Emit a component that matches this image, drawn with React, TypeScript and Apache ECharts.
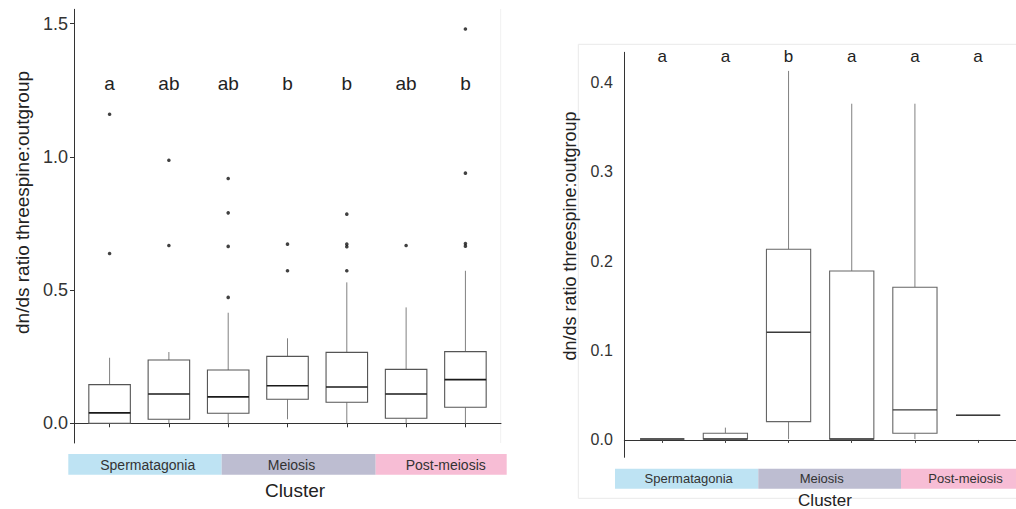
import React, { useEffect, useRef } from "react";
import * as echarts from "echarts";

const FONT = "'Liberation Sans', Arial, Helvetica, sans-serif";

// ---------- Left panel data ----------
const leftPositions = [1, 2, 3, 4, 5, 6, 7];
const leftMin = [0, 0, 0, 0.015, 0, 0, 0];
const leftQ1 = [0, 0.015, 0.0375, 0.09, 0.079, 0.019, 0.06];
const leftMedian = [0.039, 0.11, 0.099, 0.141, 0.136, 0.11, 0.164];
const leftQ3 = [0.145, 0.2375, 0.2, 0.251, 0.266, 0.2025, 0.269];
const leftMax = [0.246, 0.2675, 0.415, 0.319, 0.529, 0.435, 0.5725];
const leftOutliers: [number, number][] = [
  [1, 1.16], [1, 0.6375],
  [2, 0.9875], [2, 0.6675],
  [3, 0.919], [3, 0.79], [3, 0.664], [3, 0.4725],
  [4, 0.6725], [4, 0.5725],
  [5, 0.785], [5, 0.6725], [5, 0.6625], [5, 0.5725],
  [6, 0.6675],
  [7, 1.48], [7, 0.939], [7, 0.675], [7, 0.665],
];
const leftLetters = ["a", "ab", "ab", "b", "b", "ab", "b"];
const leftLetterY = 1.275;
const leftYTicks = [0, 0.5, 1.0, 1.5];

// ---------- Right panel data ----------
const rightPositions = [1, 2, 3, 4, 5, 6];
const rightMin = [0.001, 0.001, 0.001, 0.001, 0.001, 0.0276];
const rightQ1 = [0.001, 0.001, 0.0205, 0.001, 0.0075, 0.0276];
const rightMedian = [0.001, 0.001, 0.1204, 0.001, 0.0336, 0.0276];
const rightQ3 = [0.001, 0.0075, 0.2132, 0.189, 0.1707, 0.0276];
const rightMax = [0.001, 0.0138, 0.4127, 0.376, 0.376, 0.0276];
const rightLetters = ["a", "a", "b", "a", "a", "a"];
const rightLetterY = 0.4285;
const rightYTicks = [0, 0.1, 0.2, 0.3, 0.4];

// ---------- Shared labels ----------
const stageNames = ["Spermatagonia", "Meiosis", "Post-meiosis"];
const stageColors = ["#bee3f3", "#bdbdd1", "#f7bdd5"];
const yTitle = "dn/ds ratio threespine:outgroup";
const xTitle = "Cluster";

function boxData(pos: number[], mn: number[], q1: number[], md: number[], q3: number[], mx: number[]) {
  return pos.map((x, i) => [x, mn[i], q1[i], md[i], q3[i], mx[i]]);
}

function makeBoxRender(boxW: number, boxColor: string, medColor: string, whiskerColor: string, medWidth: number) {
  return (_params: any, api: any) => {
    const x = api.value(0);
    const mn = api.value(1);
    const q1 = api.value(2);
    const md = api.value(3);
    const q3 = api.value(4);
    const mx = api.value(5);
    const pMin = api.coord([x, mn]);
    const pQ1 = api.coord([x, q1]);
    const pMed = api.coord([x, md]);
    const pQ3 = api.coord([x, q3]);
    const pMax = api.coord([x, mx]);
    const half = api.size([boxW, 0])[0] / 2;
    const cx = pMed[0];
    const children: any[] = [];
    if (mx > q3) {
      children.push({
        type: "line",
        shape: { x1: cx, y1: pQ3[1], x2: cx, y2: pMax[1] },
        style: { stroke: whiskerColor, lineWidth: 1 },
      });
    }
    if (mn < q1) {
      children.push({
        type: "line",
        shape: { x1: cx, y1: pQ1[1], x2: cx, y2: pMin[1] },
        style: { stroke: whiskerColor, lineWidth: 1 },
      });
    }
    children.push({
      type: "rect",
      shape: { x: cx - half, y: pQ3[1], width: half * 2, height: pQ1[1] - pQ3[1] },
      style: { fill: "#ffffff", stroke: boxColor, lineWidth: 1.1 },
    });
    children.push({
      type: "line",
      shape: { x1: cx - half, y1: pMed[1], x2: cx + half, y2: pMed[1] },
      style: { stroke: medColor, lineWidth: medWidth },
    });
    return { type: "group", children };
  };
}

function makeLetterRender(letters: string[], size: number) {
  return (params: any, api: any) => {
    const p = api.coord([api.value(0), api.value(1)]);
    return {
      type: "text",
      x: p[0],
      y: p[1],
      style: {
        text: letters[params.dataIndex],
        fill: "#222",
        font: `${size}px ${FONT}`,
        align: "center",
        verticalAlign: "middle",
        textAlign: "center",
        textVerticalAlign: "middle",
      },
    };
  };
}

function txt(text: string, x: number, y: number, size: number, fill: string, rotation = 0) {
  return {
    type: "text",
    x,
    y,
    rotation,
    style: {
      text,
      fill,
      font: `${size}px ${FONT}`,
      align: "center",
      verticalAlign: "middle",
      textAlign: "center",
      textVerticalAlign: "middle",
    },
  };
}

export default function App() {
  const ref = useRef<HTMLDivElement>(null);

  useEffect(() => {
    if (!ref.current) return;
    const chart = echarts.init(ref.current, undefined, { renderer: "svg" });

    const leftStripX = [68.3, 221.7, 375.7, 506.7];
    const leftLabelX = [147.7, 291.5, 445.7];
    const rightStripX = [615, 758.3, 901, 1030];
    const rightLabelX = [688.7, 821.7, 965.5];

    const graphics: any[] = [];
    // right panel frame (light)
    graphics.push({
      type: "rect",
      shape: { x: 578.3, y: 44.3, width: 460, height: 454 },
      style: { fill: "none", stroke: "#e9e9e9", lineWidth: 1 },
      silent: true,
      z: -10,
    });
    // left panel faint right border
    graphics.push({
      type: "line",
      shape: { x1: 500.7, y1: 9, x2: 500.7, y2: 443 },
      style: { stroke: "#f1f1f1", lineWidth: 1 },
      silent: true,
      z: -10,
    });
    stageNames.forEach((name, i) => {
      graphics.push({
        type: "rect",
        shape: { x: leftStripX[i], y: 454, width: leftStripX[i + 1] - leftStripX[i], height: 20.7 },
        style: { fill: stageColors[i] },
        silent: true,
      });
      graphics.push(txt(name, leftLabelX[i], 464.5, 14, "#333", 0));
      graphics.push({
        type: "rect",
        shape: { x: rightStripX[i], y: 468.7, width: rightStripX[i + 1] - rightStripX[i], height: 20 },
        style: { fill: stageColors[i] },
        silent: true,
      });
      graphics.push(txt(name, rightLabelX[i], 478.3, 13, "#333", 0));
    });
    graphics.push(txt(xTitle, 295, 490.7, 19, "#222"));
    graphics.push(txt(xTitle, 825, 500, 17, "#222"));
    graphics.push(txt(yTitle, 22, 202.5, 19, "#222", Math.PI / 2));
    graphics.push(txt(yTitle, 570, 236, 18, "#222", Math.PI / 2));

    const axisLineStyle = { color: "#333", width: 1 };

    chart.setOption({
      animation: false,
      backgroundColor: "#ffffff",
      grid: [
        { left: 74, top: 9.3, width: 427, height: 433.7 },
        { left: 624.3, top: 52.3, width: 398, height: 405 },
      ],
      xAxis: [
        {
          gridIndex: 0,
          type: "value",
          min: 0.4,
          max: 7.6,
          axisLine: { show: true, lineStyle: axisLineStyle },
          axisTick: { show: true, customValues: leftPositions, length: 4, lineStyle: { color: "#333" } },
          axisLabel: { show: false },
          splitLine: { show: false },
        },
        {
          gridIndex: 1,
          type: "value",
          min: 0.4,
          max: 6.6,
          axisLine: { show: true, lineStyle: axisLineStyle },
          axisTick: { show: true, customValues: rightPositions, length: 3, lineStyle: { color: "#444" } },
          axisLabel: { show: false },
          splitLine: { show: false },
        },
      ],
      yAxis: [
        {
          gridIndex: 0,
          type: "value",
          min: -0.074,
          max: 1.554,
          axisLine: { show: true, lineStyle: axisLineStyle },
          axisTick: { show: true, customValues: leftYTicks, length: 4, lineStyle: { color: "#333" } },
          axisLabel: {
            show: true,
            customValues: leftYTicks,
            formatter: (v: number) => v.toFixed(1),
            fontSize: 18,
            fontFamily: FONT,
            color: "#333",
            margin: 6,
          },
          splitLine: { show: false },
        },
        {
          gridIndex: 1,
          type: "value",
          min: -0.0194,
          max: 0.4335,
          axisLine: { show: true, lineStyle: axisLineStyle },
          axisTick: { show: false },
          axisLabel: {
            show: true,
            customValues: rightYTicks,
            formatter: (v: number) => v.toFixed(1),
            fontSize: 16,
            fontFamily: FONT,
            color: "#333",
            margin: 11.5,
          },
          splitLine: { show: false },
        },
      ],
      series: [
        {
          type: "custom",
          xAxisIndex: 0,
          yAxisIndex: 0,
          renderItem: makeBoxRender(0.7, "#555", "#1a1a1a", "#808080", 1.6),
          encode: { x: 0, y: [1, 2, 3, 4, 5] },
          data: boxData(leftPositions, leftMin, leftQ1, leftMedian, leftQ3, leftMax),
          z: 2,
        },
        {
          type: "scatter",
          xAxisIndex: 0,
          yAxisIndex: 0,
          symbol: "circle",
          symbolSize: 3.6,
          itemStyle: { color: "#111" },
          data: leftOutliers,
          z: 3,
        },
        {
          type: "custom",
          xAxisIndex: 0,
          yAxisIndex: 0,
          renderItem: makeLetterRender(leftLetters, 19),
          data: leftPositions.map((x) => [x, leftLetterY]),
          z: 3,
        },
        {
          type: "custom",
          xAxisIndex: 1,
          yAxisIndex: 1,
          renderItem: makeBoxRender(0.7, "#666", "#3a3a3a", "#808080", 1.4),
          encode: { x: 0, y: [1, 2, 3, 4, 5] },
          data: boxData(rightPositions, rightMin, rightQ1, rightMedian, rightQ3, rightMax),
          z: 2,
        },
        {
          type: "custom",
          xAxisIndex: 1,
          yAxisIndex: 1,
          renderItem: makeLetterRender(rightLetters, 17),
          data: rightPositions.map((x) => [x, rightLetterY]),
          z: 3,
        },
      ],
      graphic: graphics,
    });

    return () => {
      chart.dispose();
    };
  }, []);

  return (
    <div
      ref={ref}
      style={{ position: "absolute", left: 0, top: 0, width: 1016, height: 509, background: "#fff" }}
    />
  );
}
